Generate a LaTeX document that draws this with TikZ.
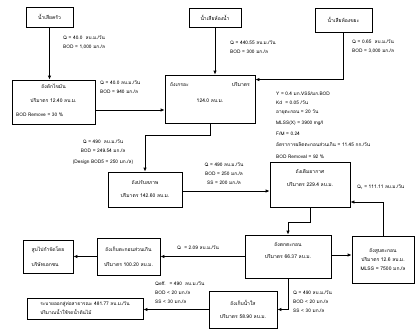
\documentclass[tikz,border=0pt]{standalone}
\usepackage{fontspec}
\newfontfamily\thai[Script=Thai]{Loma}
\usetikzlibrary{arrows.meta,positioning}
\tikzset{
  tank/.style={draw, line width=0.8pt, align=center, inner sep=1pt, font=\thai\fontsize{5}{13}\selectfont},
  txt/.style={inner sep=0pt, anchor=west, align=left, font=\thai\fontsize{4.8}{9}\selectfont},
  flow/.style={line width=0.8pt, -{Latex[length=4pt,width=3.5pt]}},
}
\begin{document}
\begin{tikzpicture}[x=1pt,y=-1pt]
\useasboundingbox (0,0) rectangle (416,335);
% sources of waste water
\node[tank, minimum width=47pt, minimum height=20pt] (kitchen) at (49.5,17) {น้ำเสียครัว};
\node[tank, minimum width=52pt, minimum height=19pt] (toilet) at (215,17.5) {น้ำเสียห้องน้ำ};
\node[tank, minimum width=57pt, minimum height=24pt] (garbage) at (343.5,20) {น้ำเสียห้องขยะ};
\node[txt] (qkitchen) at (63,42.5) {Q = 40.0 \ ลบ.ม./วัน\\BOD = 1,000 มก./ล};
\node[txt] (qtoilet) at (230,47.5) {Q = 440.55 ลบ.ม./วัน\\BOD = 300 มก./ล};
\node[txt] (qgarbage) at (352,46.5) {Q = 0.65 \ ลบ.ม./วัน\\BOD = 3,000 มก./ล};
% grease trap
\node[tank, minimum width=83pt, minimum height=44pt] (grease) at (53.5,102) {};
\node[txt, anchor=center, align=center, font=\thai\fontsize{5}{9}\selectfont] (greasename) at (53.5,93) {ถังดักไขมัน\\[5pt]ปริมาตร 12.40 ลบ.ม.};
\node[txt] (greasebod) at (16,115) {BOD Remove = 30 \%};
\node[txt] (qgrease) at (100,87.5) {Q = 40.0 ลบ.ม./วัน\\BOD = 940 มก./ล};
% septic tank
\node[tank, minimum width=90pt, minimum height=48pt] (septic) at (210,99) {};
\node[txt, font=\thai\fontsize{5}{9}\selectfont] (septicname) at (170,85) {ถังเกรอะ};
\node[txt, anchor=east, font=\thai\fontsize{5}{9}\selectfont] (septicvol) at (250,85) {ปริมาตร};
\node[txt, anchor=center, font=\thai\fontsize{5}{9}\selectfont] (septicsize) at (210,101) {124.0 ลบ.ม.};
% equalization tank
\node[tank, minimum width=74pt, minimum height=35pt] (equal) at (145,189.5) {ถังปรับสภาพ\\ปริมาตร 142.60 ลบ.ม.};
\node[txt, anchor=center, align=center] (qequal) at (103,152) {Q = 490 \ ลบ.ม./วัน\\BOD = 249.54 มก./ล\\[2pt](Design BOD5 = 250 มก./ล)};
% aeration tank
\node[txt, anchor=north west] (param) at (276,92) {Y = 0.4 มก.VSS/มก.BOD\\Kd \ = 0.05 /วัน\\อายุตะกอน = 20 วัน\\[2pt]MLSS(X) = 3900 mg/l\\[2pt]F/M = 0.24\\[2pt]อัตราการผลิตตะกอนส่วนเกิน = 11.45 กก./วัน\\[3pt]BOD Removal = 92 \%};
\node[tank, minimum width=80pt, minimum height=45pt] (aeration) at (310,184.5) {};
\node[txt, anchor=center, align=center, font=\thai\fontsize{5}{9}\selectfont] (aerationname) at (310,178.5) {ถังเติมอากาศ\\[4pt]ปริมาตร 229.4 ลบ.ม.};
\node[txt, anchor=center, align=center] (qaeration) at (224,174) {Q = 490 ลบ.ม./วัน\\BOD = 250 มก./ล\\SS = 200 มก./ล};
\node[txt] (qreturn) at (357,187) {Q\textsubscript{r} = 111.11 ลบ.ม./วัน};
% sedimentation and sludge
\node[tank, minimum width=86pt, minimum height=43pt] (sediment) at (288,256.5) {};
\node[txt, anchor=center, align=center, font=\thai\fontsize{5}{9}\selectfont] (sedimentname) at (288,251) {ถังตกตะกอน\\[3pt]ปริมาตร 66.37 ลบ.ม.};
\node[tank, minimum width=62pt, minimum height=47pt, font=\thai\fontsize{5}{9}\selectfont] (sludge) at (383,259.5) {ถังสูบตะกอน\\ปริมาตร 12.6 ลบ.ม.\\MLSS = 7500 มก./ล};
\node[tank, minimum width=63pt, minimum height=37pt, font=\thai\fontsize{5}{15}\selectfont] (excess) at (128.5,256.5) {ถังเก็บตะกอนส่วนเกิน\\ปริมาตร 100.20 ลบ.ม.};
\node[tank, minimum width=50pt, minimum height=33pt, align=left, font=\thai\fontsize{5}{15}\selectfont] (disposal) at (48,256.5) {สูบไปกำจัดโดย\\บริษัทเอกชน};
\node[txt] (qexcess) at (177,248) {Q \ = 2.09 ลบ.ม./วัน};
% clear water and discharge
\node[tank, minimum width=68pt, minimum height=37pt] (clear) at (243,309.5) {ถังเก็บน้ำใส\\ปริมาตร 58.90 ลบ.ม.};
\node[txt] (qclear) at (293,302) {Q = 490 ลบ.ม./วัน\\BOD \textless{} 20 มก./ล\\SS \textless{} 30 มก./ล};
\node[txt] (qeff) at (155,292.5) {Qeff. \ = 490 \ ลบ.ม./วัน\\BOD \textless{} 20 มก./ล\\SS \textless{} 30 มก./ล};
\node[tank, minimum width=116pt, minimum height=21pt, align=left, font=\thai\fontsize{4.8}{9}\selectfont] (discharge) at (85,308.5) {ระบายออกสู่ท่อสาธารณะ 481.77 ลบ.ม./วัน\\ปริมาณน้ำใช้รดน้ำต้นไม้};
% connectors
\draw[flow] (kitchen.south) -- (kitchen.south |- grease.north);
\draw[flow] ([yshift=-8pt]grease.east) -- ([yshift=-8pt]grease.east -| septic.west);
\draw[flow] (toilet.south) -- (toilet.south |- septic.north);
\draw[flow] (garbage.south) |- ([yshift=-5pt]septic.north east);
\draw[flow] (septic.south) -- ++(0,12) -| (equal.north);
\draw[flow] ([yshift=-1.5pt]equal.east) -- ([yshift=-1.5pt]equal.east -| aeration.west);
\draw[flow] (aeration.south) -- ++(0,15) -| (sediment.north);
\draw[flow] ([yshift=1.5pt]sediment.east) -- ([yshift=1.5pt]sediment.east -| sludge.west);
\draw[flow] (sludge.north) |- ([yshift=-17.5pt]aeration.east);
\draw[flow] (sediment.west) -- (sediment.west -| excess.east);
\draw[flow] (excess.west) -- (excess.west -| disposal.east);
\draw[flow] (sediment.south) |- (clear.east);
\draw[flow] (clear.west) -- (clear.west -| discharge.east);
\end{tikzpicture}
\end{document}
